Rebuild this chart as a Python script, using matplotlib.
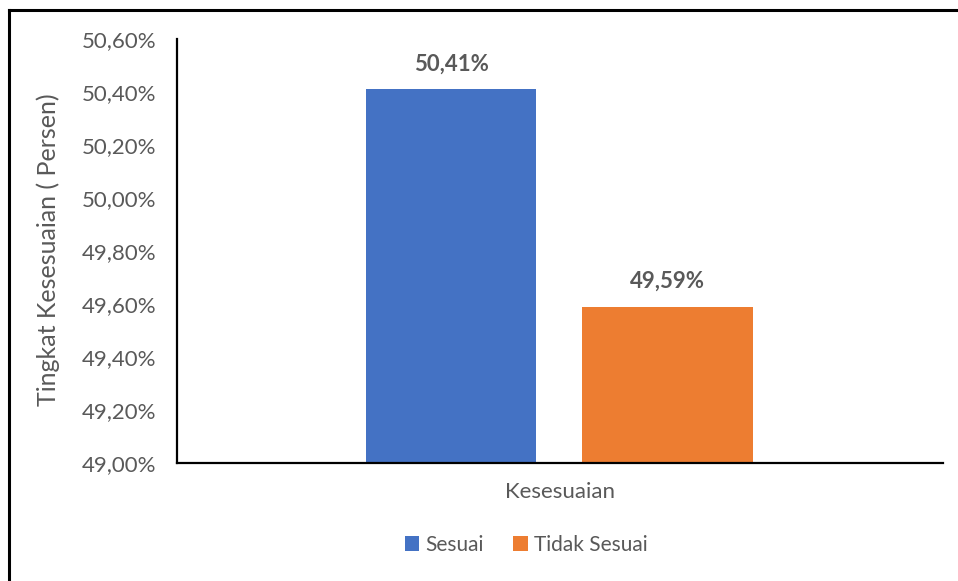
import matplotlib.pyplot as plt
from matplotlib.lines import Line2D

plt.rcParams['font.family'] = ['Lato', 'DejaVu Sans']

categories = ["Sesuai", "Tidak Sesuai"]
values = [50.41, 49.59]
labels = ["50,41%", "49,59%"]
colors = ["#4472C4", "#ED7D31"]
yticks = [49.0, 49.2, 49.4, 49.6, 49.8, 50.0, 50.2, 50.4, 50.6]

text_color = "#595959"

fig = plt.figure(figsize=(9.58, 5.81), dpi=100)
ax = fig.add_axes([177 / 958, 1 - 463 / 581, (943 - 177) / 958, (463 - 39) / 581])

for i, (cat, v, c) in enumerate(zip(categories, values, colors)):
    ax.bar(i, v - 49.0, bottom=49.0, width=0.787, color=c, label=cat)
    ax.text(i, v + 0.055, labels[i], ha='center', va='bottom',
            fontsize=16, fontweight='bold', color=text_color)

ax.set_ylim(49.0, 50.6)
ax.set_xlim(-1.266, 2.272)
ax.set_yticks(yticks)
ax.set_yticklabels([("%.2f%%" % t).replace('.', ',') for t in yticks],
                   fontsize=16, color=text_color)
ax.set_xticks([])
ax.tick_params(axis='y', length=0, pad=15)

for s in ['top', 'right']:
    ax.spines[s].set_visible(False)
ax.spines['left'].set_linewidth(1.6)
ax.spines['bottom'].set_linewidth(1.6)

ax.set_xlabel("Kesesuaian", fontsize=16, color=text_color, labelpad=14)
fig.text(48 / 958, 1 - 250 / 581, "Tingkat Kesesuaian ( Persen)", rotation=90,
         ha='center', va='center', fontsize=18, color=text_color)

leg = fig.legend(loc='center', bbox_to_anchor=(526 / 958, 1 - 545 / 581), ncol=2,
                 frameon=False, fontsize=15, handlelength=0.7, handleheight=0.7,
                 handletextpad=0.3, columnspacing=1.4)
for t in leg.get_texts():
    t.set_color(text_color)

# outer border
fig.add_artist(Line2D([9 / 958, 1.0], [1 - 10 / 581, 1 - 10 / 581], color='black', lw=2.2))
fig.add_artist(Line2D([9 / 958, 9 / 958], [0, 1 - 10 / 581], color='black', lw=2.2))

fig.savefig("out.png", dpi=100)
